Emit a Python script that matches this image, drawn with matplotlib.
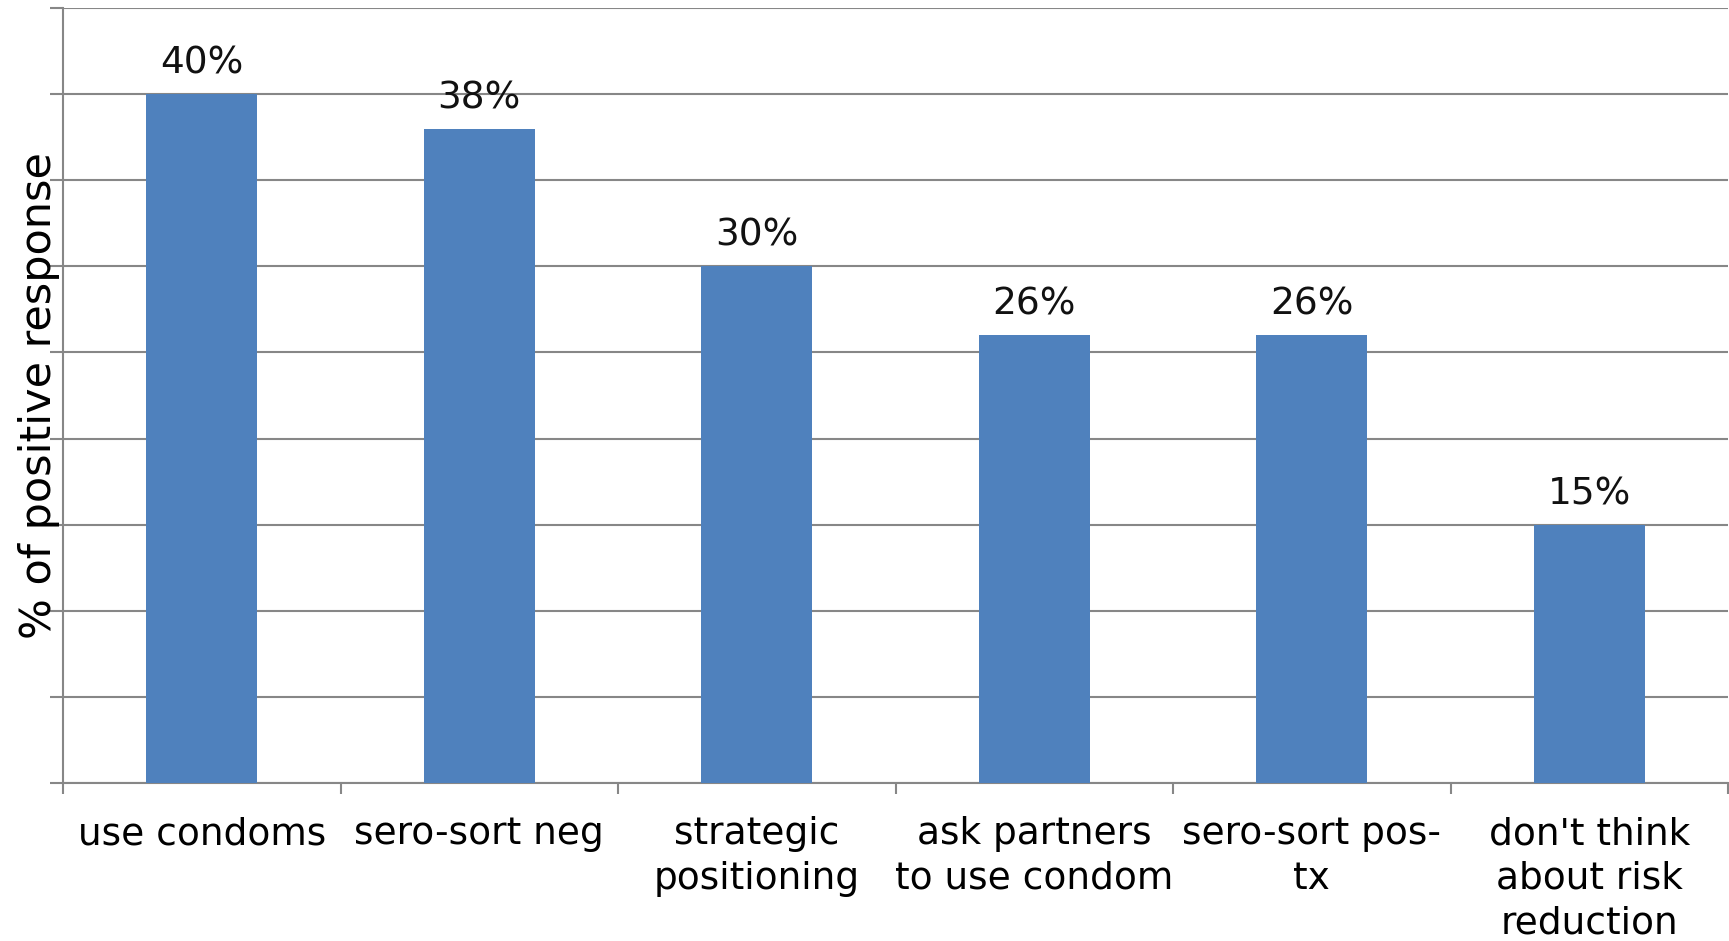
import numpy as np
import matplotlib
matplotlib.use('Agg')
import matplotlib.pyplot as plt

categories = ['use condoms', 'sero-sort neg', 'strategic\npositioning',
              'ask partners\nto use condom', 'sero-sort pos-\ntx',
              "don't think\nabout risk\nreduction"]
values = [40, 38, 30, 26, 26, 15]
value_labels = ['40%', '38%', '30%', '26%', '26%', '15%']
yticks = [0, 5, 10, 15, 20, 25, 30, 35, 40, 45]

grey = '#878787'
bar_color = '#4F81BD'

plt.rcParams['font.family'] = ['DejaVu Sans']

fig = plt.figure(figsize=(17.29, 9.41), dpi=100)
ax = fig.add_axes([63 / 1729, 1 - 783 / 941, (1728 - 63) / 1729, (783 - 8) / 941])

x = np.arange(len(categories))
bars = ax.bar(x, values, width=0.4, color=bar_color, zorder=3)

for b, lab in zip(bars, value_labels):
    ax.annotate(lab, (b.get_x() + b.get_width() / 2, b.get_height()),
                xytext=(0, 9), textcoords='offset points',
                ha='center', va='bottom', fontsize=27, color='#111111')

ax.set_xlim(-0.5, len(categories) - 0.5)
ax.set_ylim(0, 45)
ax.set_yticks(yticks)
ax.set_yticklabels([])
ax.yaxis.grid(True, color=grey, linewidth=1.5, zorder=0)
ax.tick_params(axis='y', length=9.5, width=1.5, color=grey, direction='out')

ax.set_xticks(np.arange(-0.5, len(categories), 1.0))
ax.set_xticklabels([])
ax.set_xticks(x, minor=True)
ax.set_xticklabels(categories, minor=True, fontsize=27, linespacing=1.3)
ax.tick_params(axis='x', which='major', length=8, width=1.5, color=grey, direction='out')
ax.tick_params(axis='x', which='minor', length=0, pad=24)

for s in ['top', 'right']:
    ax.spines[s].set_visible(False)
for s in ['left', 'bottom']:
    ax.spines[s].set_color(grey)
    ax.spines[s].set_linewidth(1.5)

# label sits over the tick marks in the original
ax.set_ylabel('% of positive response', fontsize=31, labelpad=-11)

fig.savefig('out.png', dpi=100)
